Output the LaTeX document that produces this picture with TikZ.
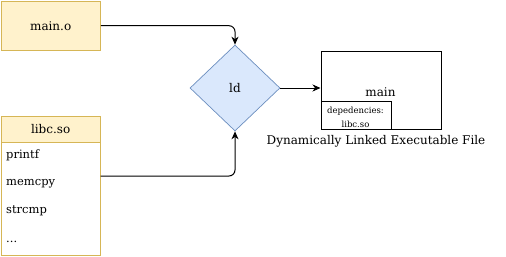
\documentclass[tikz,border=0pt]{standalone}
\usepackage{fontspec}
\setmainfont{DejaVu Serif}
\usetikzlibrary{shapes.geometric,arrows.meta}
\definecolor{yfill}{HTML}{FFF2CC}
\definecolor{ystroke}{HTML}{D6B656}
\definecolor{bfill}{HTML}{DAE8FC}
\definecolor{bstroke}{HTML}{6C8EBF}
\tikzset{
  ybox/.style={draw=ystroke,fill=yfill,line width=0.9pt,inner sep=0pt},
  item/.style={anchor=base west,inner sep=0pt,font=\fontsize{11.5}{13}\selectfont},
  conn/.style={draw=black,line width=1pt,rounded corners=6pt,-{Stealth[length=8pt,width=7pt,inset=2.5pt]}},
  lbl/.style={inner sep=0pt,font=\fontsize{12}{14}\selectfont},
}
\begin{document}
\begin{tikzpicture}[x=1pt,y=-1pt]
\useasboundingbox (0,0) rectangle (506,257);
% main.o
\node[ybox,minimum width=99.5pt,minimum height=49.5pt,anchor=north west] (maino) at (0.5,0.5) {};
\node[lbl] (mainotext) at (maino.center) {main.o};
% libc.so
\node[draw=ystroke,fill=white,line width=0.9pt,minimum width=99.5pt,minimum height=139pt,anchor=north west,inner sep=0pt] (libc) at (0.5,116) {};
\node[ybox,minimum width=99.5pt,minimum height=25.5pt,anchor=north west] (libchead) at (0.5,116) {};
\node[lbl] (libctext) at (libchead.center) {libc.so};
\node[item] (printf) at (6,158.5) {printf};
\node[item] (memcpy) at (6,185) {memcpy};
\node[item] (strcmp) at (6,213) {strcmp};
\node[item] (dots) at (6,242) {...};
\coordinate (memcpyout) at (100.5,176);
% ld
\node[diamond,draw=bstroke,fill=bfill,line width=0.7pt,minimum width=90pt,minimum height=86pt,inner sep=0pt,font=\fontsize{12}{14}\selectfont] (ld) at (235,88) {ld};
% main executable
\node[draw=black,line width=0.9pt,minimum width=120pt,minimum height=78pt,anchor=north west,inner sep=0pt] (mainbox) at (320.5,51) {};
\node[lbl] (maintext) at (380.5,92) {main};
\node[draw=black,line width=0.9pt,minimum width=70pt,minimum height=28pt,anchor=south west,inner sep=0pt] (dep) at (mainbox.south west) {};
\node[inner sep=0pt,font=\fontsize{8.5}{10}\selectfont] (deptext1) at (355.5,111) {depedencies:};
\node[inner sep=0pt,font=\fontsize{8.5}{10}\selectfont] (deptext2) at (355.5,124.5) {libc.so};
\node[lbl] (caption) at (376,141.5) {Dynamically Linked Executable File};
% connectors
\draw[conn] (maino.east) -| (ld.north);
\draw[conn] (memcpyout) -| (ld.south);
\draw[conn] (ld.east) -- (mainbox.west |- ld.east);
\end{tikzpicture}
\end{document}
